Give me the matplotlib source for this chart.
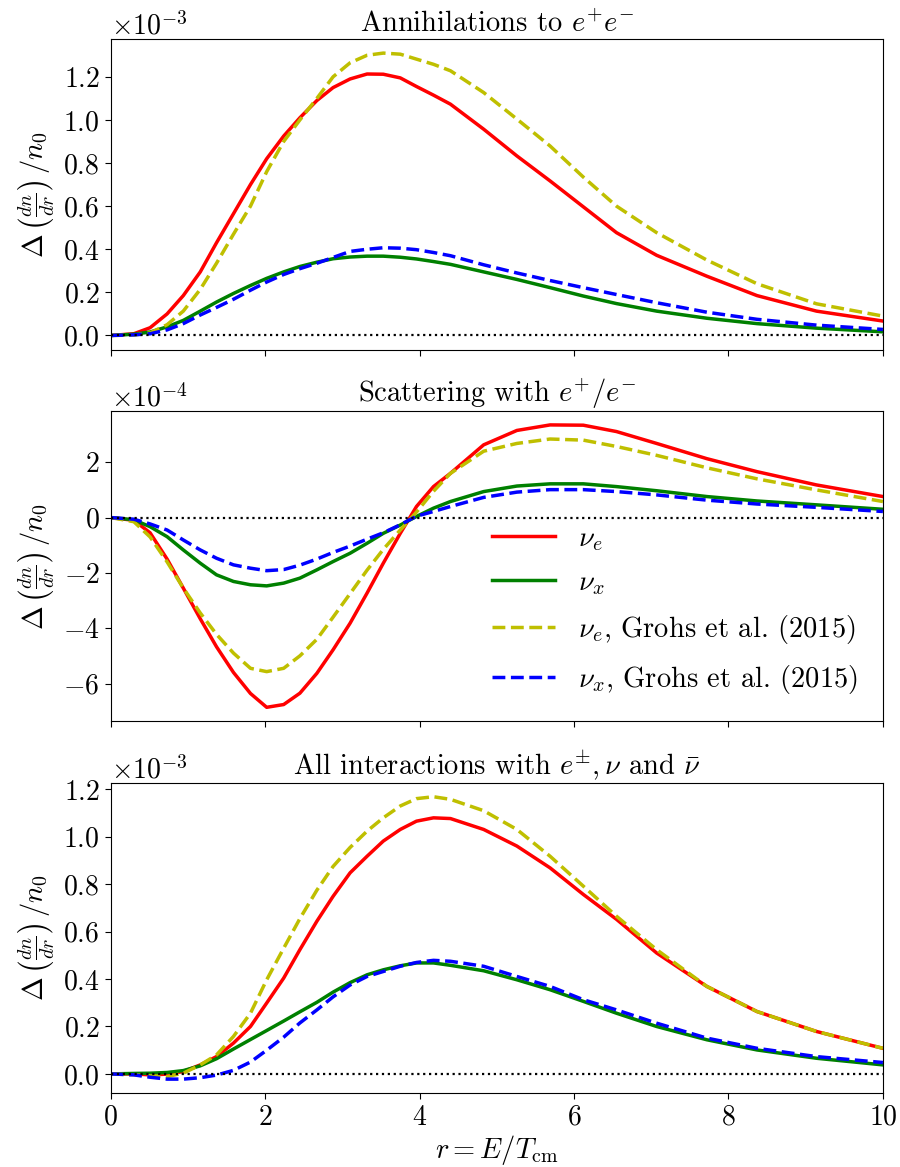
import numpy as np
import matplotlib
matplotlib.use('Agg')
import matplotlib.pyplot as plt
from matplotlib.ticker import MultipleLocator

plt.rcParams['font.family'] = 'serif'
plt.rcParams['font.serif'] = ['cmr10']
plt.rcParams['mathtext.fontset'] = 'cm'
plt.rcParams['axes.formatter.use_mathtext'] = True
plt.rcParams['font.size'] = 20

# Energy grid r = E/T_cm
r = [0, 0.3, 0.51, 0.73, 0.94, 1.16, 1.37, 1.59, 1.81, 2.02, 2.24, 2.45, 2.67, 2.88,
     3.1, 3.32, 3.53, 3.75, 3.96, 4.18, 4.4, 4.83, 5.26, 5.69, 6.12, 6.55, 7.07,
     7.72, 8.37, 9.14, 10.0]

# Panel 1: annihilations (units of 1e-3)
ann_nue = [0, 0.008, 0.036, 0.1, 0.185, 0.295, 0.43, 0.565, 0.7, 0.82, 0.925, 1.01,
           1.09, 1.15, 1.19, 1.213, 1.212, 1.195, 1.155, 1.115, 1.073, 0.957, 0.833,
           0.717, 0.597, 0.477, 0.372, 0.275, 0.185, 0.113, 0.067]
ann_nux = [0, 0.006, 0.016, 0.04, 0.07, 0.113, 0.155, 0.195, 0.232, 0.265, 0.295, 0.32,
           0.34, 0.356, 0.364, 0.368, 0.368, 0.363, 0.355, 0.343, 0.33, 0.295, 0.26,
           0.222, 0.183, 0.148, 0.113, 0.08, 0.055, 0.034, 0.017]
ann_nue_g = [0, 0.002, 0.012, 0.05, 0.113, 0.214, 0.335, 0.47, 0.6, 0.76, 0.9, 1.0,
             1.1, 1.2, 1.265, 1.3, 1.31, 1.305, 1.282, 1.258, 1.228, 1.127, 1.004,
             0.879, 0.735, 0.6, 0.477, 0.35, 0.24, 0.147, 0.09]
ann_nux_g = [0, 0.003, 0.008, 0.026, 0.055, 0.095, 0.13, 0.168, 0.21, 0.248, 0.283, 0.31,
             0.335, 0.362, 0.39, 0.4, 0.407, 0.405, 0.398, 0.385, 0.37, 0.328, 0.29,
             0.255, 0.222, 0.19, 0.152, 0.108, 0.075, 0.048, 0.028]

# Panel 2: scattering (units of 1e-4)
sca_nue = [0, -0.1, -0.55, -1.5, -2.55, -3.66, -4.67, -5.6, -6.36, -6.86, -6.76, -6.35,
           -5.63, -4.78, -3.82, -2.73, -1.65, -0.57, 0.4, 1.12, 1.6, 2.63, 3.15, 3.35,
           3.34, 3.11, 2.68, 2.13, 1.66, 1.18, 0.76]
sca_nux = [0, -0.08, -0.33, -0.69, -1.17, -1.65, -2.07, -2.31, -2.43, -2.47, -2.37, -2.19,
           -1.89, -1.59, -1.29, -0.93, -0.57, -0.27, 0.04, 0.34, 0.58, 0.94, 1.14, 1.22,
           1.22, 1.12, 0.97, 0.76, 0.6, 0.46, 0.3]
sca_nue_g = [0, -0.15, -0.7, -1.6, -2.55, -3.45, -4.22, -4.9, -5.45, -5.57, -5.45, -5.0,
             -4.4, -3.6, -2.75, -1.9, -1.15, -0.45, 0.2, 0.95, 1.6, 2.4, 2.68, 2.84, 2.8,
             2.57, 2.25, 1.8, 1.4, 1.0, 0.58]
sca_nux_g = [0, -0.06, -0.23, -0.45, -0.81, -1.17, -1.47, -1.71, -1.83, -1.92, -1.88, -1.72,
             -1.5, -1.26, -1.03, -0.78, -0.55, -0.26, 0.05, 0.22, 0.4, 0.73, 0.92, 1.01,
             1.01, 0.94, 0.82, 0.63, 0.49, 0.37, 0.22]

# Panel 3: all interactions (units of 1e-3)
all_nue = [0, 0, -0.004, -0.001, 0.01, 0.038, 0.073, 0.13, 0.2, 0.299, 0.404, 0.524,
           0.644, 0.749, 0.848, 0.918, 0.982, 1.031, 1.066, 1.08, 1.077, 1.031, 0.961,
           0.869, 0.757, 0.652, 0.51, 0.369, 0.263, 0.179, 0.108]
all_nux = [0, 0.002, 0.003, 0.006, 0.014, 0.034, 0.064, 0.105, 0.145, 0.183, 0.223, 0.262,
           0.302, 0.345, 0.385, 0.418, 0.439, 0.456, 0.468, 0.468, 0.458, 0.435, 0.397,
           0.355, 0.306, 0.256, 0.2, 0.144, 0.101, 0.066, 0.038]
all_nue_g = [0, -0.004, -0.008, -0.011, 0.003, 0.038, 0.08, 0.158, 0.256, 0.397, 0.53,
             0.655, 0.775, 0.875, 0.955, 1.024, 1.08, 1.13, 1.161, 1.169, 1.158, 1.11,
             1.031, 0.918, 0.792, 0.665, 0.524, 0.369, 0.263, 0.179, 0.108]
all_nux_g = [0, -0.004, -0.014, -0.022, -0.022, -0.016, -0.005, 0.015, 0.05, 0.1, 0.155,
             0.215, 0.27, 0.325, 0.375, 0.411, 0.432, 0.454, 0.47, 0.479, 0.475, 0.454,
             0.411, 0.369, 0.313, 0.27, 0.214, 0.151, 0.108, 0.073, 0.048]

panels = [
    ('Annihilations to $e^{+}e^{-}$', 1e-3, 0.2e-3, ann_nue, ann_nux, ann_nue_g, ann_nux_g),
    ('Scattering with $e^{+}/e^{-}$', 1e-4, 2e-4, sca_nue, sca_nux, sca_nue_g, sca_nux_g),
    (r'All interactions with $e^{\pm}, \nu$ and $\bar{\nu}$', 1e-3, 0.2e-3,
     all_nue, all_nux, all_nue_g, all_nux_g),
]

fig, axes = plt.subplots(3, 1, figsize=(9, 11.67), sharex=True)
plt.subplots_adjust(left=0.123, right=0.981, top=0.9666, bottom=0.0632, hspace=0.197)

x = np.array(r)
for ax, (title, scale, step, nue, nux, nue_g, nux_g) in zip(axes, panels):
    ax.plot(x, np.array(nue) * scale, 'r-', lw=2.5, label=r'$\nu_e$')
    ax.plot(x, np.array(nux) * scale, 'g-', lw=2.5, label=r'$\nu_x$')
    ax.plot(x, np.array(nue_g) * scale, 'y--', lw=2.5, label=r'$\nu_e$, Grohs et al. (2015)')
    ax.plot(x, np.array(nux_g) * scale, 'b--', lw=2.5, label=r'$\nu_x$, Grohs et al. (2015)')
    ax.plot([0, 10], [0, 0], 'k:', lw=1.6)
    ax.set_title(title, fontsize=20.5, pad=5)
    ax.set_ylabel(r'$\Delta\,\left(\frac{dn}{dr}\right)\,/n_0$', fontsize=20.5)
    ax.set_xlim(0, 10)
    ax.yaxis.set_major_locator(MultipleLocator(step))
    ax.ticklabel_format(axis='y', style='sci', scilimits=(0, 0))
    ax.tick_params(labelsize=20, length=4.5)

axes[1].legend(loc='lower right', frameon=False, fontsize=20.5, handlelength=2.2,
               labelspacing=0.58)
axes[2].set_xlabel(r'$r = E/T_{\rm cm}$', fontsize=20.5, labelpad=2)

plt.savefig('out.png', dpi=100)
